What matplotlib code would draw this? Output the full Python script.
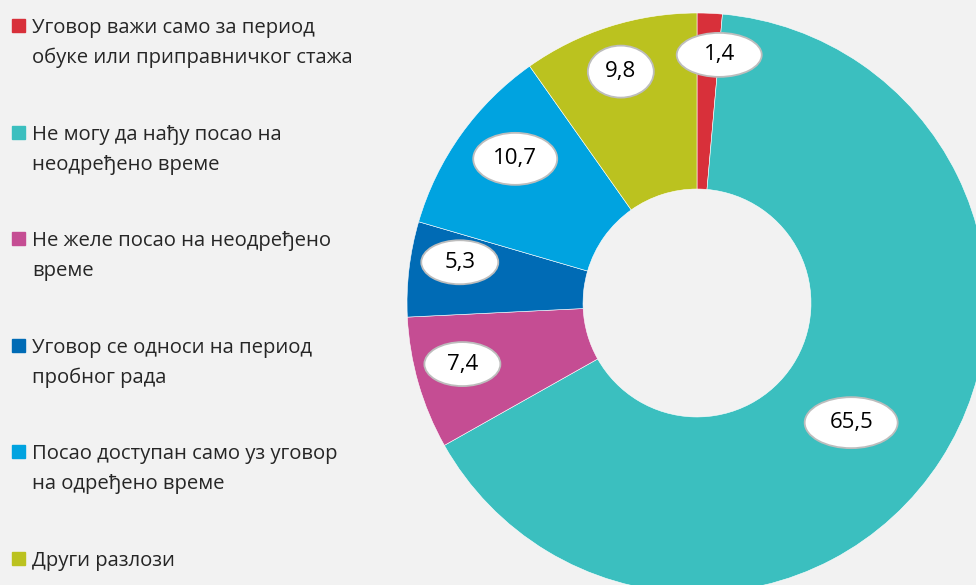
import numpy as np
import matplotlib.pyplot as plt
from matplotlib.patches import Rectangle, Ellipse

plt.rcParams['font.family'] = ['Open Sans', 'DejaVu Sans']

labels = [
    "Уговор важи само за период\nобуке или приправничког стажа",
    "Не могу да нађу посао на\nнеодређено време",
    "Не желе посао на неодређено\nвреме",
    "Уговор се односи на период\nпробног рада",
    "Посао доступан само уз уговор\nна одређено време",
    "Други разлози",
]
values = [1.4, 65.5, 7.4, 5.3, 10.7, 9.8]
value_text = ["1,4", "65,5", "7,4", "5,3", "10,7", "9,8"]
colors = ["#D8303A", "#3BBFBF", "#C54D93", "#006BB5", "#00A3E0", "#BBC21F"]

# label placement (radius fraction, angle nudge in degrees) and bubble size in px
label_radius = [0.859, 0.673, 0.836, 0.83, 0.80, 0.84]
label_nudge = [-2.6, -5.0, -1.5, -3.0, -2.9, 0.6]
bubble_px = [(85, 44), (93, 51), (76, 44), (77, 44), (84, 52), (66, 52)]

W, H = 976, 585
fig = plt.figure(figsize=(W / 100, H / 100), dpi=100)
fig.patch.set_facecolor("#F2F2F2")

# donut axes, partly outside the figure like the original
cx, cy, R = 697, 585 - 303, 290
ax = fig.add_axes([(cx - R) / W, (cy - R) / H, 2 * R / W, 2 * R / H])
ax.set_facecolor("none")
wedges, _ = ax.pie(values, colors=colors, startangle=90, counterclock=False,
                   radius=1, wedgeprops=dict(width=0.607, edgecolor="white", linewidth=0.4))
ax.set_xlim(-1, 1)
ax.set_ylim(-1, 1)
ax.set_aspect("equal")
ax.axis("off")

for w, txt, r, nd, (bw, bh) in zip(wedges, value_text, label_radius, label_nudge, bubble_px):
    ang = np.deg2rad((w.theta1 + w.theta2) / 2 + nd)
    x, y = r * np.cos(ang), r * np.sin(ang)
    ax.add_patch(Ellipse((x, y), bw / R, bh / R, fc="white", ec="#BDBDBD", lw=1.3, zorder=3))
    ax.text(x, y, txt, ha="center", va="center", fontsize=16, color="black", zorder=4)

# legend drawn by hand so the square sits on the first line
for i, (lab, col) in enumerate(zip(labels, colors)):
    base = 33 + i * 106.6
    fig.patches.append(Rectangle((12 / W, 1 - (base - 1) / H), 13 / W, 13 / H,
                                 transform=fig.transFigure, color=col))
    for j, line in enumerate(lab.split("\n")):
        fig.text(32 / W, 1 - (base + j * 30) / H, line, fontsize=14.6,
                 color="#262626", va="baseline", ha="left")

fig.savefig("out.png", dpi=100, facecolor=fig.get_facecolor())
